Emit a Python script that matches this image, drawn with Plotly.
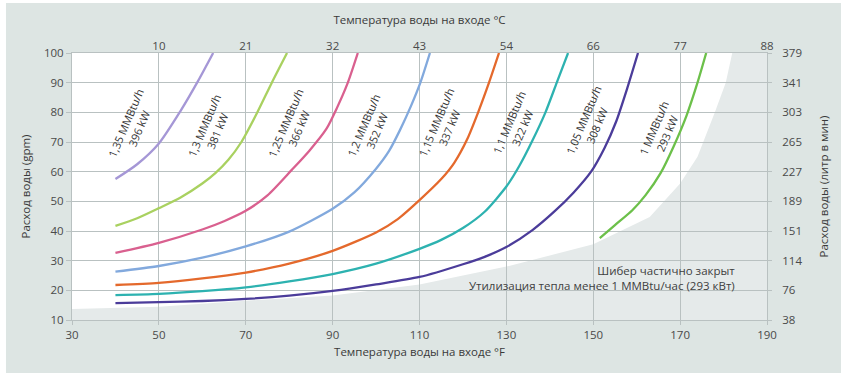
import plotly.graph_objects as go

# ---------------- data ----------------
x_ticks_f = [30, 50, 70, 90, 110, 130, 150, 170, 190]
top_tick_pos = [50, 70, 90, 110, 130, 150, 170, 190]
top_tick_c = ["10", "21", "32", "43", "54", "66", "77", "88"]
y_ticks_gpm = [10, 20, 30, 40, 50, 60, 70, 80, 90, 100]
y_ticks_lpm = ["38", "76", "114", "151", "189", "227", "265", "303", "341", "379"]

t_135 = [40, 45, 50, 55, 59, 62.5]
q_135 = [57.5, 62.5, 69.5, 80.5, 90.5, 100]

t_130 = [40, 45, 50, 55, 60, 63, 66, 69, 72.5, 76, 79.5]
q_130 = [41.7, 44.3, 47.7, 51.3, 56, 59.5, 64, 70, 79.5, 90, 100]

t_125 = [40, 50, 60, 65, 70, 75, 80.6, 84.6, 88.6, 91, 93.5, 95.8]
q_125 = [32.6, 36, 40.5, 43.3, 46.8, 52, 60.6, 67, 74.5, 81.5, 90, 100]

t_120 = [40, 50, 60, 70, 80, 90, 95, 100, 103, 105.5, 108, 110.2, 112.4]
q_120 = [26.3, 28.2, 31, 34.8, 39.8, 47.5, 53, 61, 67, 74, 82, 90, 100]

t_115 = [40, 50, 60, 70, 80, 90, 100, 105, 110, 115, 118, 121, 123.5, 126, 128.3]
q_115 = [21.8, 22.5, 24, 26, 29, 33.3, 39.5, 44, 50.4, 57.5, 63, 71, 80, 90, 100]

t_110 = [40, 50, 60, 70, 80, 90, 100, 110, 115, 120, 125, 130, 133, 136, 139, 141.6, 144.2]
q_110 = [18.4, 18.8, 19.7, 21, 23, 25.5, 29, 34, 37, 41, 46.5, 55, 62, 70.5, 80, 90, 100]

t_105 = [40, 50, 60, 70, 80, 90, 100, 110, 120, 125, 130, 136, 141, 145.5, 149.5, 152.6, 155.3, 157.8, 160.3]
q_105 = [15.7, 16, 16.4, 17.1, 18.2, 19.8, 22, 24.5, 28.8, 31.3, 34.6, 40.3, 46.5, 53, 60, 68, 77, 88, 100]

t_100 = [151.5, 155, 159, 162, 165.5, 168.5, 171.5, 174, 176]
q_100 = [37.6, 42, 47, 52, 59.5, 68.5, 79, 90, 100]

zone_t = [30, 50, 70, 90, 110, 130, 150, 163, 170, 174, 178, 180.5, 182]
zone_q = [13.7, 14.5, 16.5, 18.3, 22, 28, 35.5, 44.7, 56, 65, 80, 90, 100]

labels_mmbtu = ["1,35 MMBtu/h", "1,3 MMBtu/h", "1,25 MMBtu/h", "1,2 MMBtu/h",
                "1,15 MMBtu/h", "1,1 MMBtu/h", "1,05 MMBtu/h", "1 MMBtu/h"]
labels_kw = ["396 kW", "381 kW", "366 kW", "352 kW", "337 kW", "322 kW", "308 kW", "293 kW"]
label_t = [43.8, 61.8, 80.6, 98.6, 115.2, 132.0, 149.2, 165.4]
label_q = [75.7, 74.7, 75.7, 75.0, 75.7, 75.7, 76.7, 74.0]

colors = ["#a597d6", "#a9d160", "#d9608f", "#82a9dd", "#e4692c", "#2db2b0", "#4b3c9a", "#6cc04a"]

series = [(t_135, q_135), (t_130, q_130), (t_125, q_125), (t_120, q_120),
          (t_115, q_115), (t_110, q_110), (t_105, q_105), (t_100, q_100)]

FONT = "Open Sans"
TICK_COL = "#4a4a4a"
TITLE_COL = "#3a3a3a"
GRID = "#b9c1c1"

fig = go.Figure()

for (tx, qy), col in zip(series, colors):
    fig.add_trace(go.Scatter(x=tx, y=qy, mode="lines",
                             line=dict(color=col, width=2.3, shape="spline", smoothing=0.7),
                             hoverinfo="skip", showlegend=False))

# invisible trace for the secondary axes
fig.add_trace(go.Scatter(x=[30, 190], y=[10, 100], xaxis="x2", yaxis="y2",
                         mode="markers", marker=dict(opacity=0), showlegend=False, hoverinfo="skip"))

# gray zone (partially closed damper)
path = "M " + " L ".join(f"{t},{q}" for t, q in zip(zone_t, zone_q))
path += " L 190,100 L 190,10 L 30,10 Z"
shapes = [dict(type="path", path=path, xref="x", yref="y", layer="below",
               fillcolor="#e5eaea", line=dict(width=0))]
# thin white page edge on left/top
shapes.append(dict(type="rect", xref="paper", yref="paper", x0=-0.11, x1=-0.095, y0=-0.3, y1=1.3,
                   fillcolor="white", line=dict(width=0), layer="above"))
shapes.append(dict(type="rect", xref="paper", yref="paper", x0=-0.2, x1=1.2, y0=1.187, y1=1.25,
                   fillcolor="white", line=dict(width=0), layer="above"))

annotations = []
for m, k, tx, qy in zip(labels_mmbtu, labels_kw, label_t, label_q):
    annotations.append(dict(x=tx, y=qy, xref="x", yref="y", text=f"{m}<br>{k}",
                            showarrow=False, textangle=-67, align="center",
                            font=dict(family=FONT, size=11, color="#333333")))
annotations.append(dict(x=183.1, y=24.3, xref="x", yref="y", xanchor="right", align="right",
                        text="Шибер частично закрыт<br>Утилизация тепла менее 1 MMBtu/час (293 кВт)",
                        showarrow=False, font=dict(family=FONT, size=11.5, color="#404040")))

fig.update_layout(
    width=841, height=373,
    margin=dict(l=72, r=74, t=53, b=53, autoexpand=False),
    paper_bgcolor="#dde5e3", plot_bgcolor="white",
    font=dict(family=FONT, size=11.5, color=TICK_COL),
    shapes=shapes, annotations=annotations,
    xaxis=dict(range=[30, 190], tickvals=x_ticks_f, showgrid=True, gridcolor=GRID, gridwidth=1,
               showline=True, linecolor=GRID, mirror=True, ticks="outside", ticklen=4,
               tickcolor=GRID, zeroline=False, automargin=False,
               title=dict(text="Температура воды на входе °F", standoff=7,
                          font=dict(family=FONT, size=11.5, color=TITLE_COL))),
    xaxis2=dict(range=[30, 190], overlaying="x", side="top", tickvals=top_tick_pos,
                ticktext=top_tick_c, showgrid=False, zeroline=False, ticks="", automargin=False,
                title=dict(text="Температура воды на входе °C", standoff=10,
                           font=dict(family=FONT, size=11.5, color=TITLE_COL))),
    yaxis=dict(range=[10, 100], tickvals=y_ticks_gpm, showgrid=True, gridcolor=GRID, gridwidth=1,
               showline=True, linecolor=GRID, mirror=True, ticks="outside", ticklen=5,
               tickcolor=GRID, zeroline=False, automargin=False,
               title=dict(text="Расход воды (gpm)", standoff=10,
                          font=dict(family=FONT, size=11.5, color=TITLE_COL))),
    yaxis2=dict(range=[10, 100], overlaying="y", side="right", tickvals=y_ticks_gpm,
                ticktext=y_ticks_lpm, showgrid=False, zeroline=False, ticks="outside",
                ticklen=4, tickcolor=GRID, ticklabelstandoff=8, automargin=False,
                title=dict(text="Расход воды (литр в мин)", standoff=18,
                           font=dict(family=FONT, size=11.5, color=TITLE_COL))),
)

fig.write_html("out.html", config={"displayModeBar": False},
               post_script="document.body.style.margin='0';")
